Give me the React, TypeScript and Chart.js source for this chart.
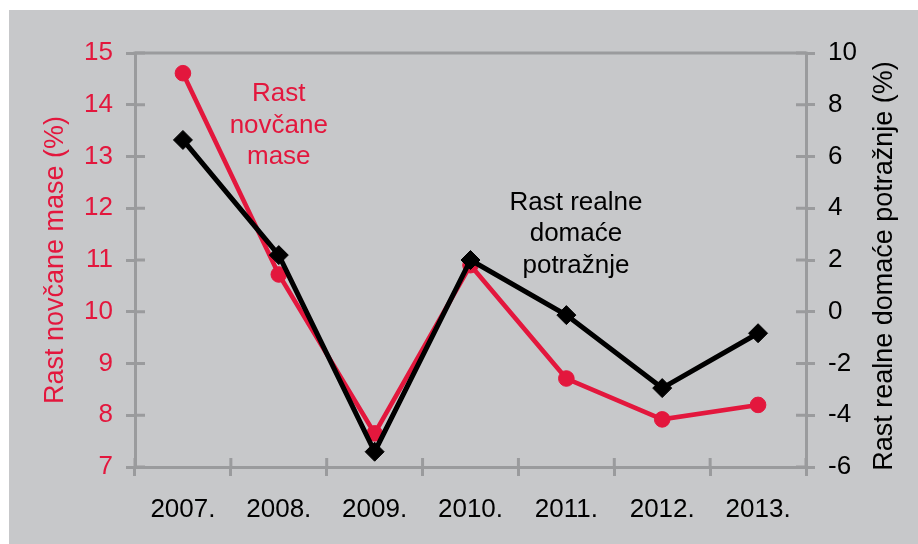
import React, { useEffect, useRef } from 'react';
import { Chart, registerables } from 'chart.js';

Chart.register(...registerables);

const years = ['2007.', '2008.', '2009.', '2010.', '2011.', '2012.', '2013.'];
const moneyGrowth = [14.61, 10.72, 7.65, 10.9, 8.71, 7.92, 8.2];
const demandGrowth = [6.64, 2.19, -5.41, 2.0, -0.13, -2.95, -0.83];
const leftTitle = 'Rast novčane mase (%)';
const rightTitle = 'Rast realne domaće potražnje (%)';
const moneyNote = ['Rast', 'novčane', 'mase'];
const demandNote = ['Rast realne', 'domaće', 'potražnje'];

const RED = '#e3173d';
const BLACK = '#000000';
const AXIS = '#9a9b9d';
const BG = '#c7c8ca';
const FONT = '"Liberation Sans", Arial, Helvetica, sans-serif';

const CANVAS_W = 909;
const CANVAS_H = 534;

// annotation anchors: [category position, left-axis value of first baseline]
const moneyNoteAnchor = { x: 1.0, y: 14.07 };
const demandNoteAnchor = { x: 4.1, y: 11.97 };
const NOTE_LINE = 31.5;

const framePlugin = {
  id: 'frame',
  beforeDatasetsDraw(chart: any) {
    const { ctx, chartArea: a, scales } = chart;
    ctx.save();
    ctx.strokeStyle = AXIS;
    ctx.lineWidth = 3;
    ctx.lineCap = 'butt';
    const seg = (x1: number, y1: number, x2: number, y2: number) => {
      ctx.beginPath();
      ctx.moveTo(x1, y1);
      ctx.lineTo(x2, y2);
      ctx.stroke();
    };
    // top frame line
    seg(a.left - 1.5, a.top, a.right + 1.5, a.top);
    // inner tick halves
    const yl = scales.y;
    yl.ticks.forEach((t: any) => {
      const p = yl.getPixelForValue(t.value);
      seg(a.left, p, a.left + 10, p);
    });
    const yr = scales.y1;
    yr.ticks.forEach((t: any) => {
      const p = yr.getPixelForValue(t.value);
      seg(a.right - 10, p, a.right, p);
    });
    const xs = scales.x;
    for (let i = 0; i <= years.length; i++) {
      const px = xs.getPixelForValue(i - 0.5);
      seg(px, a.bottom - 9, px, a.bottom);
    }
    ctx.restore();
  },
  afterDraw(chart: any) {
    const { ctx, chartArea: a, scales } = chart;
    ctx.save();
    // right axis title, reading bottom to top
    ctx.font = `27px ${FONT}`;
    ctx.fillStyle = BLACK;
    ctx.textAlign = 'center';
    ctx.textBaseline = 'middle';
    ctx.translate(876, (a.top + a.bottom) / 2 + 6);
    ctx.rotate(-Math.PI / 2);
    ctx.fillText(rightTitle, 0, 0);
    ctx.restore();

    ctx.save();
    ctx.font = `26px ${FONT}`;
    ctx.textAlign = 'center';
    ctx.textBaseline = 'alphabetic';
    const drawNote = (lines: string[], anchor: { x: number; y: number }, color: string) => {
      const x = scales.x.getPixelForValue(anchor.x);
      const y0 = scales.y.getPixelForValue(anchor.y);
      ctx.fillStyle = color;
      lines.forEach((l, i) => ctx.fillText(l, x, y0 + i * NOTE_LINE));
    };
    drawNote(moneyNote, moneyNoteAnchor, RED);
    drawNote(demandNote, demandNoteAnchor, BLACK);
    ctx.restore();
  },
};

export default function App() {
  const ref = useRef<HTMLCanvasElement | null>(null);

  useEffect(() => {
    if (!ref.current) return;
    const gridOpts = {
      drawOnChartArea: false,
      drawTicks: true,
      tickLength: 9,
      color: AXIS,
      lineWidth: 3,
    };
    const borderOpts = { display: true, color: AXIS, width: 3 };
    const chart = new Chart(ref.current, {
      type: 'line',
      data: {
        labels: years,
        datasets: [
          {
            label: 'Rast novčane mase',
            data: moneyGrowth,
            yAxisID: 'y',
            borderColor: RED,
            backgroundColor: RED,
            borderWidth: 4.6,
            pointStyle: 'circle',
            pointRadius: 7.8,
            pointBorderWidth: 1,
            pointBorderColor: RED,
            pointBackgroundColor: RED,
            tension: 0,
            order: 1,
          },
          {
            label: 'Rast realne domaće potražnje',
            data: demandGrowth,
            yAxisID: 'y1',
            borderColor: BLACK,
            backgroundColor: BLACK,
            borderWidth: 5,
            pointStyle: 'rectRot',
            pointRadius: 9.5,
            pointBorderWidth: 1,
            pointBorderColor: BLACK,
            pointBackgroundColor: BLACK,
            tension: 0,
            order: 0,
          },
        ],
      },
      options: {
        animation: false,
        responsive: false,
        maintainAspectRatio: false,
        devicePixelRatio: 1,
        layout: { padding: { top: 43, left: 0, right: 0, bottom: 0 } },
        plugins: {
          legend: { display: false },
          tooltip: { enabled: false },
        },
        scales: {
          x: {
            type: 'category',
            offset: true,
            grid: { ...gridOpts, offset: true },
            border: borderOpts,
            ticks: {
              color: BLACK,
              font: { family: FONT, size: 26 },
              padding: 18,
              maxRotation: 0,
              autoSkip: false,
            },
            afterFit: (s: any) => {
              s.height = 77;
            },
          },
          y: {
            type: 'linear',
            position: 'left',
            min: 7,
            max: 15,
            ticks: {
              stepSize: 1,
              color: RED,
              font: { family: FONT, size: 26 },
              padding: 13,
            },
            grid: gridOpts,
            border: borderOpts,
            title: {
              display: true,
              text: leftTitle,
              color: RED,
              font: { family: FONT, size: 27 },
              padding: { top: 30, bottom: 0 },
            },
            afterFit: (s: any) => {
              s.width = 126;
            },
          },
          y1: {
            type: 'linear',
            position: 'right',
            min: -6,
            max: 10,
            ticks: {
              stepSize: 2,
              color: BLACK,
              font: { family: FONT, size: 26 },
              padding: 13,
            },
            grid: gridOpts,
            border: borderOpts,
            afterFit: (s: any) => {
              s.width = 112;
            },
          },
        },
      } as any,
      plugins: [framePlugin],
    });
    return () => chart.destroy();
  }, []);

  return (
    <div
      style={{
        position: 'fixed',
        left: 9,
        top: 10,
        width: CANVAS_W,
        height: CANVAS_H,
        background: BG,
      }}
    >
      <canvas ref={ref} width={CANVAS_W} height={CANVAS_H} style={{ display: 'block' }} />
    </div>
  );
}
